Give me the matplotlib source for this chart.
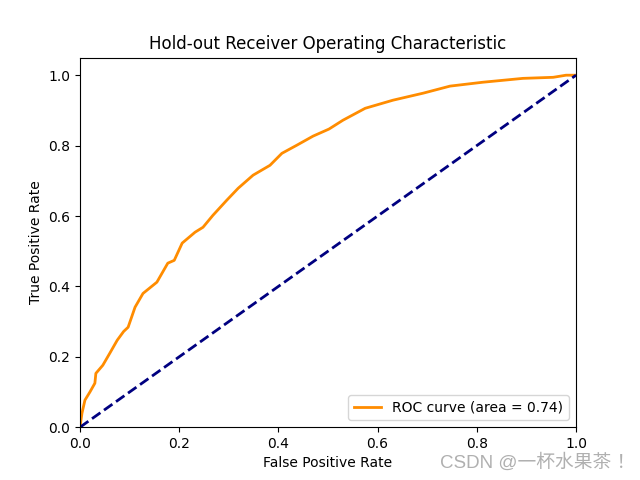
import matplotlib
matplotlib.use('Agg')
import matplotlib.pyplot as plt

# ROC curve points
fpr = [0.0, 0.004, 0.010, 0.020, 0.030, 0.032, 0.046, 0.060, 0.075, 0.088, 0.097,
       0.111, 0.127, 0.155, 0.177, 0.190, 0.206, 0.232, 0.248, 0.268, 0.296,
       0.319, 0.349, 0.383, 0.407, 0.437, 0.470, 0.502, 0.530, 0.575, 0.631,
       0.692, 0.746, 0.812, 0.893, 0.954, 0.980, 1.0]
tpr = [0.0, 0.040, 0.077, 0.100, 0.125, 0.153, 0.176, 0.210, 0.247, 0.272, 0.284,
       0.341, 0.380, 0.412, 0.466, 0.474, 0.523, 0.554, 0.568, 0.602, 0.645,
       0.679, 0.716, 0.744, 0.778, 0.801, 0.827, 0.847, 0.872, 0.906, 0.929,
       0.949, 0.969, 0.980, 0.991, 0.994, 1.0, 1.0]
roc_auc = 0.74

fig, ax = plt.subplots(figsize=(6.4, 4.8), dpi=100)
ax.plot(fpr, tpr, color='darkorange', lw=2, label='ROC curve (area = %0.2f)' % roc_auc)
ax.plot([0, 1], [0, 1], color='navy', lw=2, linestyle='--')
ax.set_xlim([0.0, 1.0])
ax.set_ylim([0.0, 1.05])
ax.set_xlabel('False Positive Rate')
ax.set_ylabel('True Positive Rate')
ax.set_title('Hold-out Receiver Operating Characteristic')
ax.legend(loc='lower right')

# watermark
fig.text(0.688, 0.036, 'CSDN @一杯水果茶 ！', color='#b0b0b0', fontsize=13.5,
         va='center', family=['Liberation Sans', 'Noto Sans CJK SC'])

fig.savefig('out.png', dpi=100)
